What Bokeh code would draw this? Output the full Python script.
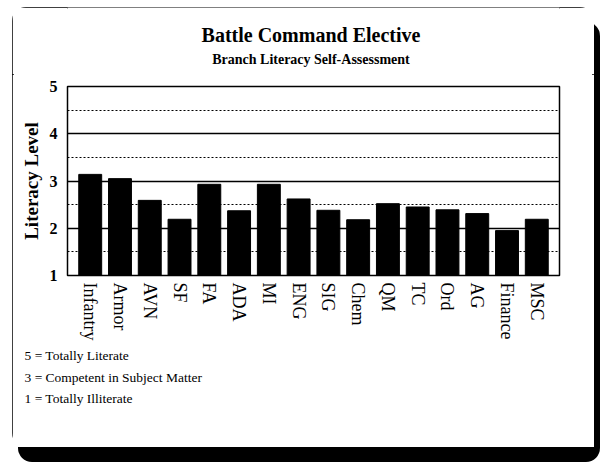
from bokeh.plotting import figure
from bokeh.layouts import column
from bokeh.models import FactorRange, FixedTicker, Range1d, Title
from bokeh.embed import file_html
from bokeh.resources import INLINE

# ---- data ----
branches = ["Infantry", "Armor", "AVN", "SF", "FA", "ADA", "MI", "ENG",
            "SIG", "Chem", "QM", "TC", "Ord", "AG", "Finance", "MSC"]
literacy = [3.14, 3.05, 2.59, 2.19, 2.93, 2.37, 2.93, 2.62,
            2.38, 2.18, 2.52, 2.45, 2.39, 2.31, 1.95, 2.19]
y_ticks = [1, 2, 3, 4, 5]
y_minor = [1.5, 2.5, 3.5, 4.5]
title_text = "Battle Command Elective"
subtitle_text = "Branch Literacy Self-Assessment"
notes = ["5 = Totally Literate", "3 = Competent in Subject Matter", "1 = Totally Illiterate"]

FONT = "Liberation Serif"

# ---- layout (page pixels) ----
LEFT0, TOP0 = 12, 7           # box origin on page
W, H = 582, 440
HEAD_H = 67                   # header strip height
FRAME_L, FRAME_R, FRAME_T, FRAME_B = 67, 559, 86, 275

# ---- header strip (titles) ----
head = figure(width=W, height=HEAD_H, x_range=Range1d(0, W), y_range=Range1d(HEAD_H, 0),
              x_axis_type=None, y_axis_type=None, output_backend="svg",
              toolbar_location=None, min_border=0)
head.grid.visible = False
head.outline_line_color = None
head.background_fill_color = "white"
head.border_fill_color = "white"
head.text(x=[300 - LEFT0], y=[34 - TOP0], text=[title_text],
          text_align="center", text_baseline="alphabetic",
          text_font={"value": FONT}, text_font_style="bold", text_font_size="20px",
          text_color="black")
head.text(x=[300 - LEFT0], y=[59 - TOP0], text=[subtitle_text],
          text_align="center", text_baseline="alphabetic",
          text_font={"value": FONT}, text_font_style="bold", text_font_size="14px",
          text_color="black")

# ---- main chart ----
MAIN_H = H - HEAD_H
top_off = TOP0 + HEAD_H
p = figure(width=W, height=MAIN_H,
           x_range=FactorRange(factors=branches, range_padding=0.263,
                               range_padding_units="absolute"),
           y_range=Range1d(1, 5),
           output_backend="svg", toolbar_location=None,
           min_border_left=FRAME_L - LEFT0,
           min_border_right=W - (FRAME_R - LEFT0),
           min_border_top=FRAME_T - top_off,
           min_border_bottom=MAIN_H - (FRAME_B - top_off))

p.background_fill_color = "white"
p.border_fill_color = "white"
p.outline_line_color = "black"
p.outline_line_width = 1.5

# grid
p.xgrid.grid_line_color = None
p.ygrid.ticker = FixedTicker(ticks=y_ticks, minor_ticks=y_minor)
p.ygrid.grid_line_color = "black"
p.ygrid.grid_line_width = 1.3
p.ygrid.minor_grid_line_color = "black"
p.ygrid.minor_grid_line_dash = "2 2"
p.ygrid.minor_grid_line_width = 1

# bars
p.vbar(x=branches, top=literacy, bottom=1, width=0.77,
       fill_color="black", line_color="black")

# y axis
p.yaxis.ticker = FixedTicker(ticks=y_ticks)
p.yaxis.axis_line_color = None
p.yaxis.major_tick_line_color = None
p.yaxis.minor_tick_line_color = None
p.yaxis.major_tick_in = 0
p.yaxis.major_tick_out = 0
p.yaxis.major_label_standoff = 10
p.yaxis.major_label_text_font = FONT
p.yaxis.major_label_text_font_style = "bold"
p.yaxis.major_label_text_font_size = "16px"
p.yaxis.major_label_text_color = "black"
p.yaxis.axis_label = "Literacy Level"
p.yaxis.axis_label_text_font = FONT
p.yaxis.axis_label_text_font_style = "bold"
p.yaxis.axis_label_text_font_size = "19px"
p.yaxis.axis_label_text_color = "black"
p.yaxis.axis_label_standoff = 5

# x axis
p.xaxis.axis_line_color = None
p.xaxis.major_tick_line_color = None
p.xaxis.major_tick_in = 0
p.xaxis.major_tick_out = 0
p.xaxis.major_label_standoff = 7
p.xaxis.major_label_orientation = "vertical"
p.xaxis.major_label_text_font = FONT
p.xaxis.major_label_text_font_size = "18px"
p.xaxis.major_label_text_color = "black"

# notes below the axis
for i, n in enumerate(notes):
    p.add_layout(Title(text=n, align="left", offset=24 - FRAME_L,
                       text_font=FONT, text_font_style="normal", text_font_size="13.5px",
                       text_color="black", standoff=5 if i == 0 else 4), "below")

layout = column(head, p, spacing=0,
                styles={"margin-left": f"{LEFT0}px",
                        "margin-top": f"{TOP0}px",
                        "border-radius": "14px",
                        "outline": "2px solid black",
                        "outline-offset": "-2px",
                        "box-shadow": "6px 15px 0 0 black"})

open("out.html", "w").write(file_html(layout, INLINE))
